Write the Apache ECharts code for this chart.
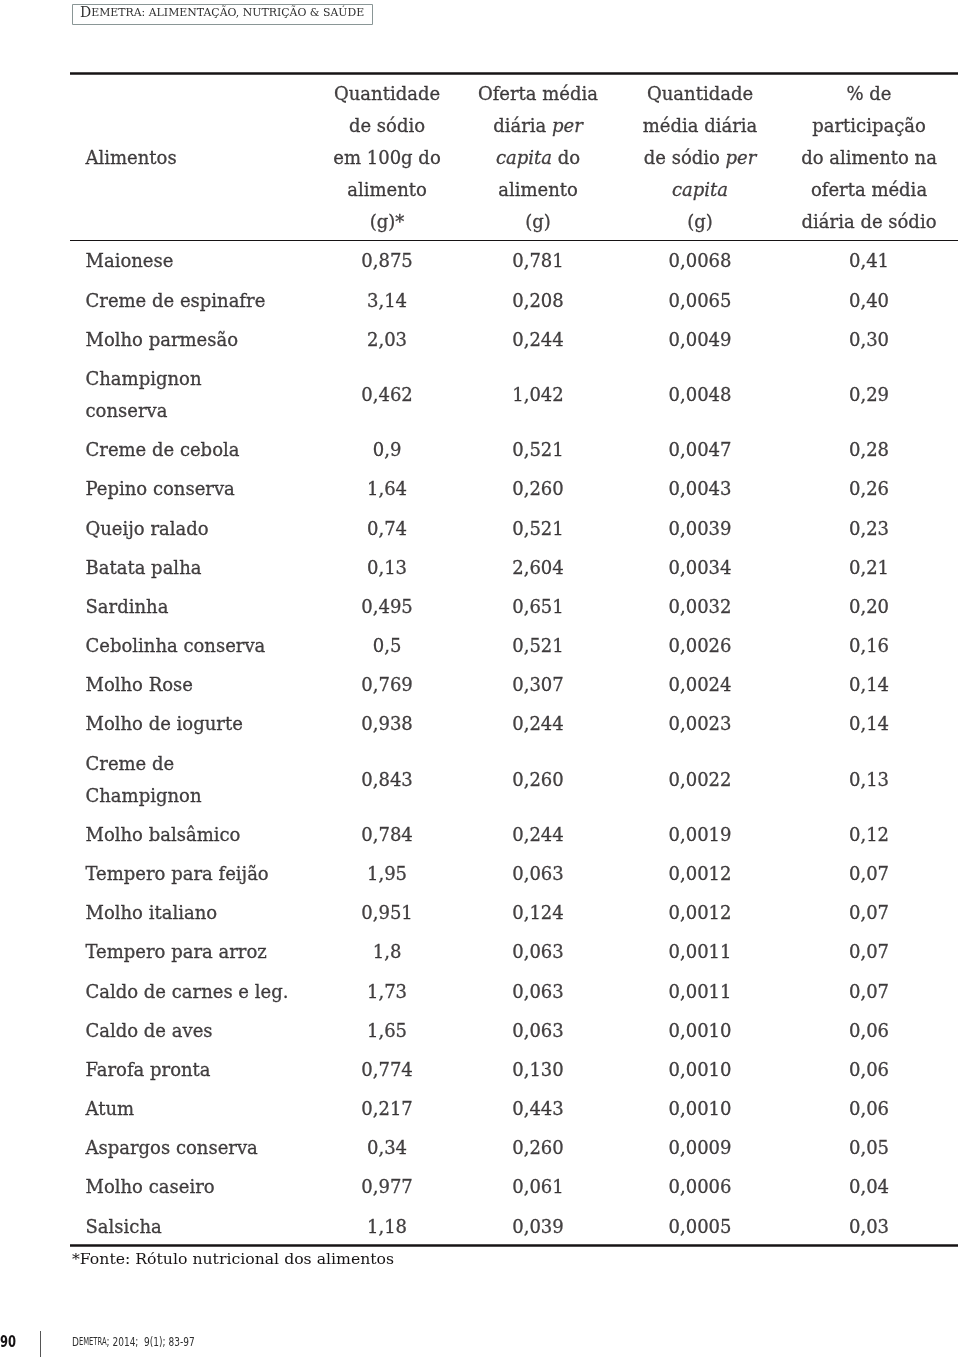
<!DOCTYPE html>
<html>
<head>
<meta charset="utf-8">
<script src="https://cdn.jsdelivr.net/npm/echarts@6/dist/echarts.min.js"></script>
<style>
html,body{margin:0;padding:0;background:#fff;}
#chart{width:960px;height:1358px;}
</style>
</head>
<body>
<div id="chart"></div>
<script>
// ---------------- DATA ----------------
const headerTitles = [
  'Alimentos',
  'Quantidade\nde sódio\nem 100g do\nalimento\n(g)*',
  'Oferta média\ndiária {i|per}\n{i|capita} do\nalimento\n(g)',
  'Quantidade\nmédia diária\nde sódio {i|per}\n{i|capita}\n(g)',
  '% de\nparticipação\ndo alimento na\noferta média\ndiária de sódio'
];
const alimentos = [
  'Maionese', 'Creme de espinafre', 'Molho parmesão', 'Champignon\nconserva',
  'Creme de cebola', 'Pepino conserva', 'Queijo ralado', 'Batata palha',
  'Sardinha', 'Cebolinha conserva', 'Molho Rose', 'Molho de iogurte',
  'Creme de\nChampignon', 'Molho balsâmico', 'Tempero para feijão', 'Molho italiano',
  'Tempero para arroz', 'Caldo de carnes e leg.', 'Caldo de aves', 'Farofa pronta',
  'Atum', 'Aspargos conserva', 'Molho caseiro', 'Salsicha'
];
const sodio100g = [0.875, 3.14, 2.03, 0.462, 0.9, 1.64, 0.74, 0.13, 0.495, 0.5, 0.769, 0.938,
  0.843, 0.784, 1.95, 0.951, 1.8, 1.73, 1.65, 0.774, 0.217, 0.34, 0.977, 1.18];
const ofertaDiaria = [0.781, 0.208, 0.244, 1.042, 0.521, 0.260, 0.521, 2.604, 0.651, 0.521, 0.307, 0.244,
  0.260, 0.244, 0.063, 0.124, 0.063, 0.063, 0.063, 0.130, 0.443, 0.260, 0.061, 0.039];
const sodioDiario = [0.0068, 0.0065, 0.0049, 0.0048, 0.0047, 0.0043, 0.0039, 0.0034, 0.0032, 0.0026, 0.0024, 0.0023,
  0.0022, 0.0019, 0.0012, 0.0012, 0.0011, 0.0011, 0.0010, 0.0010, 0.0010, 0.0009, 0.0006, 0.0005];
const participacao = [0.41, 0.40, 0.30, 0.29, 0.28, 0.26, 0.23, 0.21, 0.20, 0.16, 0.14, 0.14,
  0.13, 0.12, 0.07, 0.07, 0.07, 0.07, 0.06, 0.06, 0.06, 0.05, 0.04, 0.03];
const footnote = '*Fonte: Rótulo nutricional dos alimentos';

// ---------------- LAYOUT ----------------
const colX = [0.0169, 0.357, 0.527, 0.7095, 0.8998]; // column anchors as fraction of table width
const EXTRA_LINE = 0.82; // extra height (in row units) per additional text line
const nLines = s => s.split('\n').length;
const rowH = s => 1 + (nLines(s) - 1) * EXTRA_LINE;
const headerH = rowH(headerTitles[1]);
let cursor = headerH;
const rowCenters = alimentos.map(n => { const h = rowH(n); const c = cursor + h / 2; cursor += h; return c; });
const totalH = cursor;

const pt = v => String(v).replace('.', ',');
const fx = d => v => v.toFixed(d).replace('.', ',');
const columns = [
  alimentos,
  sodio100g.map(pt),
  ofertaDiaria.map(fx(3)),
  sodioDiario.map(fx(4)),
  participacao.map(fx(2))
];

const FONT = 'DejaVu Serif';
const INK = '#161314';
const baseLabel = {
  show: true, color: INK, fontFamily: FONT, fontSize: 18, lineHeight: 32,
  textBorderColor: INK, textBorderWidth: 0.3,
  offset: [0, 2.5],
  formatter: '{b}',
  rich: { i: { fontStyle: 'italic', fontFamily: FONT, fontSize: 18, lineHeight: 32, color: INK,
               textBorderColor: INK, textBorderWidth: 0.3 } }
};

const series = [];
// header cells
series.push({
  type: 'scatter', symbolSize: 1, itemStyle: { color: 'rgba(0,0,0,0)' }, silent: true,
  data: headerTitles.map((t, j) => ({ name: t, value: [colX[j], headerH / 2] })),
  label: Object.assign({}, baseLabel, {
    position: 'inside',
    align: 'center', verticalAlign: 'middle'
  })
});
series[0].data[0].label = { position: 'right', distance: 0, align: 'left' };

columns.forEach((col, j) => {
  series.push({
    type: 'scatter', symbolSize: 1, itemStyle: { color: 'rgba(0,0,0,0)' }, silent: true,
    data: col.map((t, i) => ({ name: t, value: [colX[j], rowCenters[i]] })),
    label: Object.assign({}, baseLabel, j === 0
      ? { position: 'right', distance: 0, align: 'left', verticalAlign: 'middle' }
      : { position: 'inside', align: 'center', verticalAlign: 'middle' })
  });
});

// table rules
series.push({
  type: 'line', data: [], silent: true,
  markLine: {
    symbol: 'none', silent: true, animation: false,
    label: { show: false },
    data: [
      { yAxis: 0, lineStyle: { color: INK, width: 2.5, type: 'solid' } },
      { yAxis: headerH, lineStyle: { color: INK, width: 1.2, type: 'solid' } },
      { yAxis: totalH, lineStyle: { color: INK, width: 2.5, type: 'solid' } }
    ]
  }
});

const SANS_N = 'Liberation Sans Narrow, DejaVu Sans Condensed, sans-serif';
const chart = echarts.init(document.getElementById('chart'), null, { renderer: 'canvas' });
chart.setOption({
  animation: false,
  backgroundColor: '#ffffff',
  grid: { left: 70, right: 2, top: 73, bottom: 113, containLabel: false },
  xAxis: { type: 'value', min: 0, max: 1, show: false },
  yAxis: { type: 'value', min: 0, max: totalH, inverse: true, show: false },
  series: series,
  graphic: [
    { type: 'rect', shape: { x: 72.5, y: 4.5, width: 300, height: 20 },
      style: { fill: 'none', stroke: '#8a9696', lineWidth: 1 } },
    { type: 'text', x: 80, y: 6,
      style: { text: '{a|D}{b|EMETRA: ALIMENTAÇÃO, NUTRIÇÃO & SAÚDE}', fill: '#2e2e2e',
        rich: { a: { fontFamily: FONT, fontSize: 14, fill: '#2e2e2e' },
                b: { fontFamily: FONT, fontSize: 10.9, fill: '#2e2e2e' } } } },
    { type: 'text', x: 72, y: 1252,
      style: { text: footnote, fontFamily: FONT, fontSize: 15.7, fill: INK } },
    { type: 'text', x: 0, y: 1335, scaleX: 0.8,
      style: { text: '90', fontFamily: SANS_N, fontWeight: 'bold', fontSize: 16, fill: INK } },
    { type: 'line', shape: { x1: 40.5, y1: 1331, x2: 40.5, y2: 1357 }, style: { stroke: '#555', lineWidth: 1 } },
    { type: 'text', x: 72, y: 1336, scaleX: 0.77,
      style: { text: '{a|D}{b|EMETRA}{a|; 2014;  9(1); 83-97}', fill: '#2e2e2e',
        rich: { a: { fontFamily: SANS_N, fontSize: 13, fill: '#2e2e2e' },
                b: { fontFamily: SANS_N, fontSize: 9.8, fill: '#2e2e2e' } } } }
  ]
});
</script>
</body>
</html>
